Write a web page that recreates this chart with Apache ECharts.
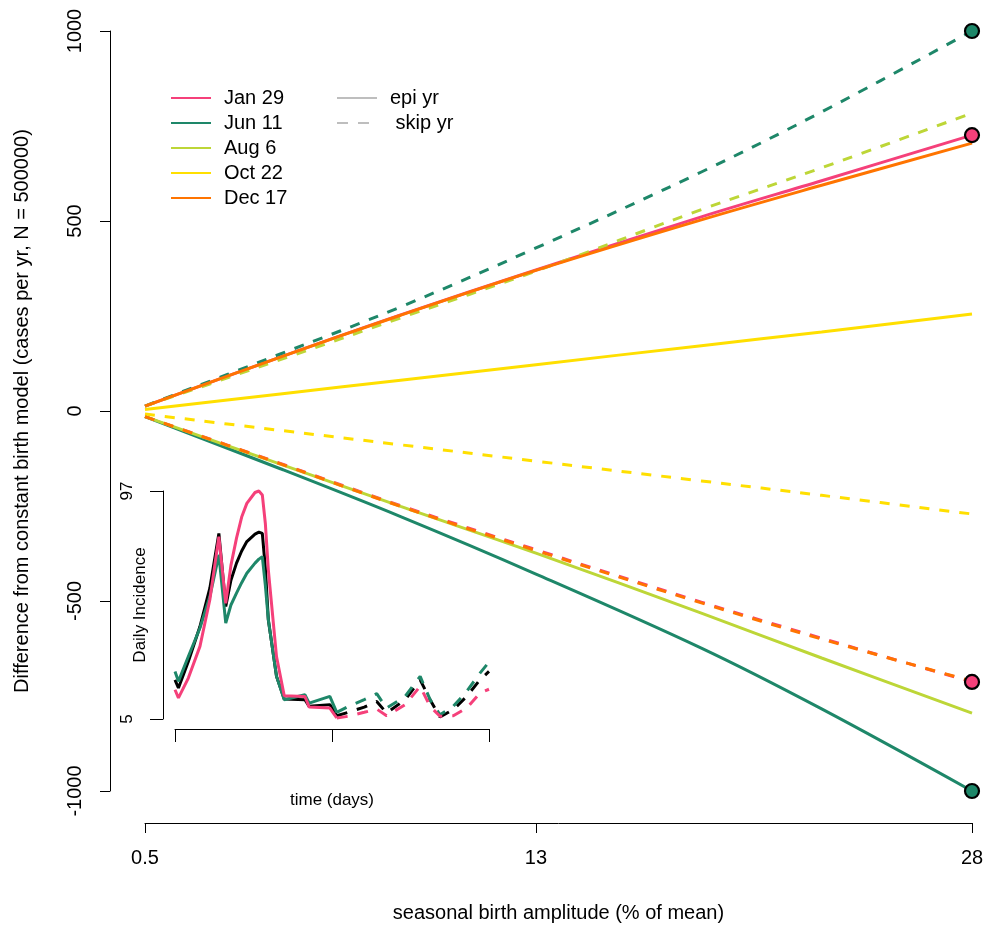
<!DOCTYPE html>
<html>
<head>
<meta charset="utf-8">
<script src="https://cdn.jsdelivr.net/npm/echarts@6/dist/echarts.min.js"></script>
<style>
html, body { margin: 0; background: #fff; }
#chart { width: 987px; height: 928px; }
</style>
</head>
<body>
<div id="chart"></div>
<script>
// run index along the amplitude axis (labels placed at runs 1, 27, 56)
var runIdx = [1, 10, 18, 27, 38, 46, 56];
var xTickAt = [1, 27, 56];
var xTickLabels = ['0.5', '13', '28'];

// difference from constant birth model, epi yr (solid) and skip yr (dashed)
var janEpi  = [13, 142, 253, 371, 511, 606, 726];
var janSkip = [-15, -138, -249, -365, -503, -598, -713];
var junEpi  = [-15, -152, -278, -429, -624, -784, -1000];
var junSkip = [13, 150, 274, 429, 629, 787, 1000];
var augEpi  = [-15, -140, -251, -374, -532, -650, -795];
var augSkip = [13, 135, 245, 368, 530, 640, 784];
var octEpi  = [4, 45, 81, 122, 172, 208, 255];
var octSkip = [-8, -51, -89, -132, -184, -222, -271];
var decEpi  = [13, 142, 252, 370, 503, 594, 705];
var decSkip = [-15, -139, -251, -367, -505, -600, -711];

// inset: daily incidence over two years
var daysEpi  = [0, 8, 31, 58, 81, 102, 118, 130, 143, 155, 167, 186, 195, 203, 210, 217, 236, 254, 302, 312, 360, 376];
var daysSkip = [376, 403, 440, 469, 492, 535, 570, 593, 616, 647, 678, 709, 730];
var blackEpi  = [20.8, 17.5, 28.2, 42.3, 57.8, 79.9, 50.4, 61.0, 67.9, 72.8, 76.6, 79.6, 80.4, 79.9, 66.0, 45.0, 22.2, 13.1, 12.8, 10.1, 10.8, 6.3];
var blackSkip = [6.3, 7.7, 9.8, 12.1, 7.4, 12.8, 20.8, 12.8, 5.8, 8.8, 14.1, 20.8, 24.2];
var pinkEpi   = [16.8, 13.5, 21.5, 34.3, 53.1, 78.6, 51.7, 67.0, 78.0, 86.5, 92.0, 96.4, 97.0, 95.4, 84.0, 65.2, 30.2, 14.4, 14.1, 9.8, 9.4, 5.4];
var pinkSkip  = [5.4, 6.1, 7.7, 9.0, 6.3, 10.8, 18.2, 10.1, 6.1, 6.3, 9.4, 15.5, 17.0];
var greenEpi  = [24.2, 20.2, 30.2, 41.7, 54.4, 71.2, 43.7, 51.0, 55.8, 60.0, 63.8, 67.9, 69.5, 70.5, 59.0, 45.0, 22.2, 12.8, 14.8, 11.4, 14.1, 7.7];
var greenSkip = [7.7, 10.1, 12.8, 15.2, 9.4, 14.1, 22.2, 12.8, 6.7, 10.1, 16.1, 23.5, 28.0];

var PINK = '#F5407A', GREEN = '#1E8769', LIME = '#BDD637', YELLOW = '#FFDF00', ORANGE = '#FF7400', GREY = '#BEBEBE';
var FONT = 'Liberation Sans';

function zip(xs, ys) {
  return ys.map(function (v, i) { return [xs[i], v]; });
}

function line(name, xs, ys, color, dashed, grid, dash) {
  return {
    name: name,
    type: 'line',
    xAxisIndex: grid, yAxisIndex: grid,
    data: zip(xs, ys),
    symbol: 'none',
    clip: false,
    smooth: grid === 0 ? 0.35 : false,
    color: color,
    lineStyle: { color: color, width: 3, type: dashed ? (dash || [10, 10]) : 'solid' },
    z: 2
  };
}

function endPoint(ys, color) {
  return {
    name: 'end', type: 'scatter', xAxisIndex: 0, yAxisIndex: 0,
    data: [[runIdx[runIdx.length - 1], ys[ys.length - 1]]],
    symbolSize: 14, clip: false,
    itemStyle: { color: color, borderColor: '#000', borderWidth: 2.2, opacity: 1 },
    z: 5
  };
}

var chart = echarts.init(document.getElementById('chart'));
var axisCol = { onZero: false, lineStyle: { color: '#000', width: 1 } };
var legendText = { fontFamily: FONT, fontSize: 20, color: '#000', lineHeight: 20, padding: [0, 0, 0, 8] };

chart.setOption({
  animation: false,
  backgroundColor: '#fff',
  textStyle: { fontFamily: FONT },
  grid: [
    { left: 145, right: 15, top: 31, bottom: 137 },
    { left: 175, right: 498, top: 491, bottom: 209 }
  ],
  legend: [
    {
      data: ['Jan 29', 'Jun 11', 'Aug 6', 'Oct 22', 'Dec 17'],
      orient: 'vertical', left: 165, top: 83,
      itemWidth: 40, itemHeight: 14, itemGap: 5,
      selectedMode: false,
      itemStyle: { opacity: 0 },
      textStyle: legendText
    },
    {
      data: ['epi yr', ' skip yr'],
      orient: 'vertical', left: 331, top: 83,
      itemWidth: 40, itemHeight: 14, itemGap: 5,
      selectedMode: false,
      itemStyle: { opacity: 0 },
      textStyle: legendText
    }
  ],
  xAxis: [
    {
      type: 'value', gridIndex: 0, min: 1, max: 56, offset: 32,
      axisLine: axisCol,
      axisTick: { length: 10, customValues: xTickAt, lineStyle: { color: '#000' } },
      axisLabel: {
        customValues: xTickAt, margin: 25, fontSize: 20, color: '#000', fontFamily: FONT,
        formatter: function (v) { return xTickLabels[xTickAt.indexOf(v)]; }
      },
      splitLine: { show: false },
      name: 'seasonal birth amplitude (% of mean)', nameLocation: 'middle', nameGap: 80,
      nameMoveOverlap: false,
      nameTextStyle: { fontSize: 20, color: '#000', fontFamily: FONT }
    },
    {
      type: 'value', gridIndex: 1, min: 0, max: 730, interval: 365, offset: 10,
      axisLine: axisCol,
      axisTick: { length: 13, lineStyle: { color: '#000' } },
      axisLabel: { show: false },
      splitLine: { show: false },
      name: 'time (days)', nameLocation: 'middle', nameGap: 63,
      nameMoveOverlap: false,
      nameTextStyle: { fontSize: 17, color: '#000', fontFamily: FONT }
    }
  ],
  yAxis: [
    {
      type: 'value', gridIndex: 0, min: -1000, max: 1000, interval: 500, offset: 35,
      axisLine: axisCol,
      axisTick: { length: 10, lineStyle: { color: '#000' } },
      axisLabel: {
        rotate: 90, margin: 25, fontSize: 20, color: '#000', fontFamily: FONT,
        formatter: function (v) { return String(v); }
      },
      splitLine: { show: false },
      name: 'Difference from constant birth model (cases per yr, N = 500000)',
      nameLocation: 'middle', nameGap: 78, nameRotate: 90,
      nameMoveOverlap: false,
      nameTextStyle: { fontSize: 20, color: '#000', fontFamily: FONT }
    },
    {
      type: 'value', gridIndex: 1, min: 5, max: 97, offset: 12,
      axisLine: axisCol,
      axisTick: { length: 13, customValues: [5, 97], lineStyle: { color: '#000' } },
      axisLabel: { customValues: [5, 97], rotate: 90, margin: 27, fontSize: 17, color: '#000', fontFamily: FONT },
      splitLine: { show: false },
      name: 'Daily Incidence', nameLocation: 'middle', nameGap: 14, nameRotate: 90,
      nameMoveOverlap: false,
      nameTextStyle: { fontSize: 17, color: '#000', fontFamily: FONT }
    }
  ],
  series: [
    line('Jan 29', runIdx, janEpi, PINK, false, 0),
    line('Jan 29', runIdx, janSkip, PINK, true, 0),
    line('Jun 11', runIdx, junEpi, GREEN, false, 0),
    line('Jun 11', runIdx, junSkip, GREEN, true, 0),
    line('Aug 6', runIdx, augEpi, LIME, false, 0),
    line('Aug 6', runIdx, augSkip, LIME, true, 0),
    line('Oct 22', runIdx, octEpi, YELLOW, false, 0),
    line('Oct 22', runIdx, octSkip, YELLOW, true, 0),
    line('Dec 17', runIdx, decEpi, ORANGE, false, 0),
    line('Dec 17', runIdx, decSkip, ORANGE, true, 0),
    { name: 'epi yr', type: 'line', data: [], symbol: 'none', color: GREY, lineStyle: { color: GREY, width: 3 } },
    { name: ' skip yr', type: 'line', data: [], symbol: 'none', color: GREY, lineStyle: { color: GREY, width: 3, type: [11, 10] } },
    endPoint(junSkip, GREEN),
    endPoint(janEpi, PINK),
    endPoint(janSkip, PINK),
    endPoint(junEpi, GREEN),
    line('inset black', daysEpi, blackEpi, '#000', false, 1),
    line('inset black', daysSkip, blackSkip, '#000', true, 1, [11, 10]),
    line('inset green', daysEpi, greenEpi, GREEN, false, 1),
    line('inset green', daysSkip, greenSkip, GREEN, true, 1, [11, 10]),
    line('inset pink', daysEpi, pinkEpi, PINK, false, 1),
    line('inset pink', daysSkip, pinkSkip, PINK, true, 1, [11, 10])
  ]
});
</script>
</body>
</html>
